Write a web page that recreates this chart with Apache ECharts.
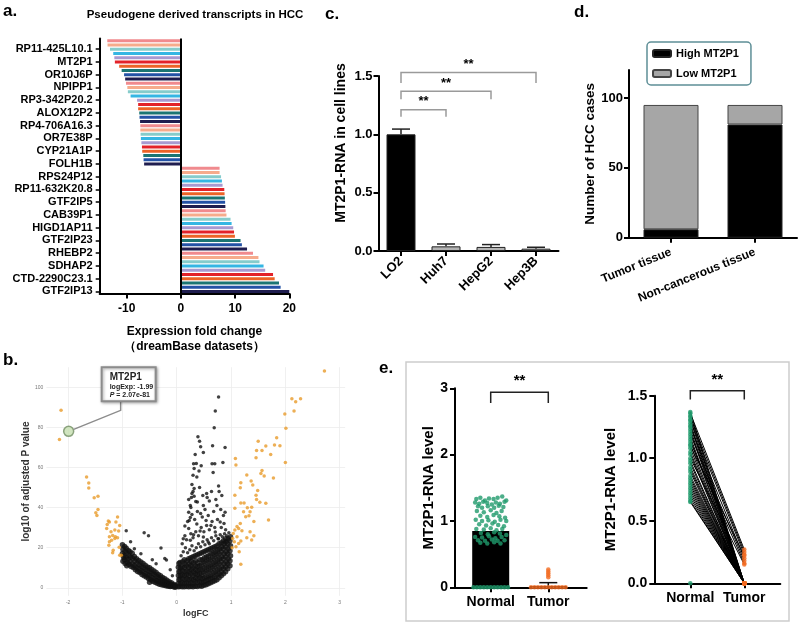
<!DOCTYPE html>
<html>
<head>
<meta charset="utf-8">
<script src="https://cdn.jsdelivr.net/npm/echarts@6/dist/echarts.min.js"></script>
<style>
  html, body { margin: 0; background: #fff; }
  #chart { width: 800px; height: 625px; }
</style>
</head>
<body>
<div id="chart"></div>
<script>
// a. pseudogene derived transcripts (dreamBase), top to bottom
const genes = ['RP11-425L10.1', 'MT2P1', 'OR10J6P', 'NPIPP1', 'RP3-342P20.2', 'ALOX12P2', 'RP4-706A16.3',
  'OR7E38P', 'CYP21A1P', 'FOLH1B', 'RPS24P12', 'RP11-632K20.8', 'GTF2IP5', 'CAB39P1', 'HIGD1AP11',
  'GTF2IP23', 'RHEBP2', 'SDHAP2', 'CTD-2290C23.1', 'GTF2IP13'];
const foldChange = [
  -13.6, -13.55, -13.1, -12.5, -12.3, -12.2, -11.4, -10.95, -10.5, -10.3,
  -10.15, -9.9, -9.8, -9.3, -8.1, -7.9, -7.9, -7.7, -7.65, -7.55,
  -7.5, -7.5, -7.45, -7.4, -7.3, -7.2, -7.15, -6.95, -6.9, -6.8,
  7.13, 7.13, 7.4, 7.56, 7.68, 8.0, 8.05, 8.1, 8.15, 8.2,
  8.25, 8.4, 9.15, 9.35, 9.65, 9.8, 9.96, 11.0, 11.25, 12.2,
  13.3, 14.3, 14.5, 15.25, 15.55, 17.0, 17.3, 18.1, 18.4, 20.0];
const barPalette = ['#f08a8e', '#f6ab8c', '#86cccb', '#35b6e3', '#a89ad0',
  '#e32229', '#ec6327', '#1b7573', '#2452a6', '#1f1d4f'];

// b. volcano plot (logFC, -log10 adj. P)
// crowded area close to the origin
const nsDense = [
  // left band
  [-1.0, 21.5], [-0.99, 19.2], [-1.0, 17.1], [-0.98, 15.3], [-0.99, 13.2], [-0.96, 20.6], [-0.95, 18.1],
  [-0.97, 16.2], [-0.96, 14.0], [-0.95, 12.1], [-0.93, 19.7], [-0.92, 17.4], [-0.93, 15.1], [-0.91, 12.6],
  [-0.92, 11.0], [-0.89, 18.6], [-0.88, 16.1], [-0.9, 14.2], [-0.88, 11.6], [-0.86, 18.0], [-0.85, 15.4],
  [-0.86, 13.1], [-0.84, 10.6], [-0.82, 17.2], [-0.81, 14.6], [-0.82, 12.0], [-0.8, 10.1], [-0.78, 15.6],
  [-0.77, 13.4], [-0.78, 11.1], [-0.76, 9.0], [-0.74, 14.5], [-0.73, 12.2], [-0.74, 10.0], [-0.72, 8.1],
  [-0.7, 13.6], [-0.69, 11.4], [-0.7, 9.6], [-0.68, 7.6], [-0.66, 12.9], [-0.65, 10.6], [-0.66, 8.5],
  [-0.64, 6.6], [-0.62, 12.1], [-0.61, 10.0], [-0.62, 8.1], [-0.6, 6.0], [-0.58, 11.2], [-0.57, 9.1],
  [-0.58, 7.0], [-0.56, 5.4], [-0.54, 10.4], [-0.53, 8.6], [-0.54, 6.5], [-0.52, 4.6], [-0.5, 10.0],
  [-0.49, 8.0], [-0.5, 6.1], [-0.48, 4.0], [-0.5, 2.8], [-0.46, 9.1], [-0.45, 7.1], [-0.46, 5.1],
  [-0.44, 3.2], [-0.42, 8.4], [-0.41, 6.6], [-0.42, 4.5], [-0.4, 2.8], [-0.38, 7.6], [-0.37, 5.6],
  [-0.38, 3.8], [-0.36, 2.2], [-0.34, 6.6], [-0.33, 5.0], [-0.34, 3.2], [-0.32, 1.8], [-0.3, 6.0],
  [-0.29, 4.2], [-0.3, 2.8], [-0.28, 1.5], [-0.26, 5.1], [-0.25, 3.5], [-0.26, 2.2], [-0.24, 1.2],
  [-0.22, 4.5], [-0.21, 3.0], [-0.22, 1.8], [-0.2, 1.0], [-0.18, 3.8], [-0.17, 2.5], [-0.18, 1.5],
  [-0.16, 0.8], [-0.14, 3.0], [-0.13, 2.0], [-0.14, 1.2], [-0.12, 0.6], [-0.1, 2.5], [-0.09, 1.5],
  [-0.1, 0.8], [-0.06, 1.8], [-0.05, 1.0], [-0.06, 0.5], [-0.03, 1.2], [-0.02, 0.6], [-0.03, 0.3],
  // right wedge
  [0.03, 0.5], [0.03, 2.1], [0.04, 4.0], [0.03, 6.1], [0.04, 8.0], [0.03, 10.2], [0.04, 12.1],
  [0.06, 0.6], [0.07, 2.0], [0.06, 4.2], [0.07, 6.0], [0.06, 8.1], [0.07, 10.0], [0.06, 12.6],
  [0.1, 0.5], [0.1, 2.5], [0.11, 4.5], [0.1, 6.5], [0.11, 8.5], [0.1, 10.5], [0.11, 13.0],
  [0.14, 0.5], [0.14, 2.1], [0.15, 4.0], [0.14, 6.1], [0.15, 8.0], [0.14, 10.1], [0.15, 12.0], [0.14, 14.0],
  [0.18, 0.6], [0.18, 2.5], [0.19, 4.5], [0.18, 6.5], [0.19, 8.5], [0.18, 11.0], [0.19, 13.5],
  [0.22, 0.5], [0.22, 2.0], [0.23, 4.0], [0.22, 6.0], [0.23, 8.0], [0.22, 10.0], [0.23, 12.0], [0.22, 14.5],
  [0.26, 0.6], [0.26, 2.5], [0.27, 4.5], [0.26, 7.0], [0.27, 9.0], [0.26, 11.0], [0.27, 13.0], [0.26, 15.0],
  [0.3, 0.5], [0.3, 2.0], [0.31, 4.0], [0.3, 6.0], [0.31, 8.0], [0.3, 10.0], [0.31, 12.5], [0.3, 15.5],
  [0.34, 0.8], [0.34, 3.0], [0.35, 5.0], [0.34, 7.0], [0.35, 9.0], [0.34, 11.0], [0.35, 13.5], [0.34, 16.0],
  [0.38, 0.6], [0.38, 2.5], [0.39, 4.5], [0.38, 6.5], [0.39, 8.5], [0.38, 10.5], [0.39, 12.5], [0.38, 16.5],
  [0.42, 1.0], [0.42, 3.0], [0.43, 5.0], [0.42, 7.0], [0.43, 9.0], [0.42, 11.0], [0.43, 14.0], [0.42, 17.0],
  [0.46, 0.8], [0.46, 2.5], [0.47, 4.5], [0.46, 6.5], [0.47, 9.0], [0.46, 11.5], [0.47, 14.0], [0.46, 17.5],
  [0.5, 1.2], [0.5, 3.0], [0.51, 5.0], [0.5, 7.5], [0.51, 10.0], [0.5, 12.5], [0.51, 15.0], [0.5, 18.0],
  [0.54, 1.5], [0.54, 3.5], [0.55, 5.5], [0.54, 8.0], [0.55, 10.5], [0.54, 13.0], [0.55, 15.5], [0.54, 18.5],
  [0.58, 2.0], [0.58, 4.0], [0.59, 6.0], [0.58, 8.5], [0.59, 11.0], [0.58, 13.5], [0.59, 16.0], [0.58, 19.0],
  [0.62, 2.5], [0.62, 4.5], [0.63, 6.5], [0.62, 9.0], [0.63, 11.5], [0.62, 14.0], [0.63, 17.0], [0.62, 19.5],
  [0.66, 3.0], [0.66, 5.0], [0.67, 7.5], [0.66, 10.0], [0.67, 12.5], [0.66, 15.0], [0.67, 17.5], [0.66, 20.0],
  [0.7, 3.5], [0.7, 5.5], [0.71, 8.0], [0.7, 10.5], [0.71, 13.0], [0.7, 15.5], [0.71, 18.0], [0.7, 20.5],
  [0.74, 4.0], [0.74, 6.5], [0.75, 9.0], [0.74, 11.5], [0.75, 14.0], [0.74, 16.5], [0.75, 19.0], [0.74, 21.0],
  [0.78, 5.0], [0.78, 7.0], [0.79, 9.5], [0.78, 12.0], [0.79, 14.5], [0.78, 17.0], [0.79, 19.5], [0.78, 22.0],
  [0.82, 6.0], [0.82, 8.0], [0.83, 10.5], [0.82, 13.0], [0.83, 15.5], [0.82, 18.0], [0.83, 20.5], [0.82, 22.5],
  [0.86, 7.0], [0.86, 9.5], [0.87, 12.0], [0.86, 14.5], [0.87, 17.0], [0.86, 19.5], [0.87, 22.0], [0.86, 23.5],
  [0.9, 8.0], [0.9, 10.5], [0.91, 13.0], [0.9, 15.5], [0.91, 18.0], [0.9, 20.5], [0.91, 23.0], [0.9, 24.5],
  [0.94, 9.5], [0.94, 12.0], [0.95, 14.5], [0.94, 17.0], [0.95, 19.5], [0.94, 22.0], [0.95, 24.5],
  [0.98, 11.0], [0.98, 13.5], [0.99, 16.0], [0.98, 18.5], [0.99, 21.0], [0.98, 23.5], [0.99, 25.5]];
// spread-out non-significant genes
const nsSparse = [
  [-0.93, 28.4], [-0.6, 27.4], [-0.52, 26.0], [-0.29, 19.8], [-0.22, 14.6], [-0.19, 13.8], [-0.85, 23.0],
  [-0.78, 19.5], [-0.66, 17.0], [-0.45, 14.0], [-0.38, 12.0], [-0.12, 9.0], [-0.08, 6.0],
  [0.08, 16], [0.12, 18], [0.16, 20], [0.2, 17.5], [0.24, 19], [0.28, 21], [0.32, 18.5], [0.36, 20],
  [0.4, 22], [0.44, 20.5], [0.48, 23], [0.52, 21.5], [0.56, 24], [0.6, 22], [0.64, 25], [0.68, 23.5],
  [0.72, 26], [0.76, 24.5], [0.8, 26.5], [0.84, 25.5], [0.88, 27], [0.92, 26], [0.96, 27.5],
  [0.1, 22], [0.15, 26], [0.18, 24], [0.26, 27], [0.3, 25], [0.35, 28], [0.4, 26], [0.45, 30], [0.5, 28],
  [0.55, 31], [0.6, 29], [0.65, 33], [0.7, 30], [0.75, 34], [0.82, 30], [0.9, 29],
  [0.2, 33], [0.25, 35], [0.33, 34], [0.38, 38], [0.44, 37], [0.52, 39], [0.58, 36], [0.68, 38], [0.74, 41],
  [0.86, 36], [0.22, 44], [0.27, 45], [0.3, 48], [0.35, 43], [0.42, 50], [0.48, 46], [0.56, 45], [0.64, 48],
  [0.72, 44], [0.78, 48],
  [0.77, 95.2], [0.71, 88.1], [0.69, 79.8], [0.39, 75.3], [0.42, 73.1], [0.66, 70.8], [0.89, 70.0],
  [0.44, 70.3], [0.49, 67.5], [0.34, 66.5], [0.36, 62], [0.31, 61.8], [0.65, 61.8], [0.7, 61.8],
  [0.85, 62.5], [0.45, 60.8], [0.32, 59.5], [0.41, 58.2], [0.67, 57.5], [0.3, 56.1], [0.37, 55.3],
  [0.28, 51.5], [0.77, 50.7], [0.32, 49.5], [0.55, 47], [0.28, 47], [0.32, 45.7], [0.6, 43.3], [0.83, 46],
  [0.38, 42.8], [0.25, 41], [0.26, 40], [0.49, 41], [0.81, 39], [0.89, 37.7], [0.22, 37.7], [0.28, 36.5],
  [0.47, 35.3], [0.54, 33.6], [0.23, 33.6], [0.8, 32.8], [0.37, 31.8], [0.15, 30.8], [0.63, 31.1],
  [0.87, 32], [0.22, 29.5], [0.43, 28.3], [0.71, 27.8], [0.31, 26.5], [0.49, 25.3], [0.77, 24.5],
  [0.12, 24.5], [0.25, 23.7], [0.58, 22.8], [0.89, 22.8]];
const sigPoints = [
  // down-regulated
  [-2.13, 88.5], [-2.16, 74], [-1.66, 55.2], [-1.62, 52.2], [-1.62, 49.7], [-1.45, 45.7], [-1.52, 44.9],
  [-1.45, 39], [-1.49, 37.4], [-1.47, 36.1], [-1.26, 33.3], [-1.24, 32.8], [-1.09, 35.3], [-1.12, 32.8],
  [-1.05, 31.1], [-1.28, 31.6], [-1.29, 29.6], [-1.14, 28.8], [-1.21, 27.9], [-1.07, 28.3], [-1.18, 26.1],
  [-1.13, 25.4], [-1.09, 24.9], [-1.24, 25.4], [-1.2, 23.7], [-1.14, 24.6], [-1.25, 21.2], [-1.17, 18.7],
  [-1.18, 17.5], [-1.06, 20.2], [-1.05, 16.2], [-1.02, 16.2], [-1.24, 22.9],
  // up-regulated
  [2.72, 108.1], [2.12, 94.3], [2.19, 92.8], [2.28, 94.3], [2.16, 88.1], [1.99, 86.6], [2.01, 79.5],
  [1.84, 74.8], [1.5, 73.1], [1.64, 70.7], [1.8, 71.2], [1.9, 70.8], [1.57, 68.5], [1.73, 66.5],
  [1.47, 68.5], [1.46, 64.8], [2.0, 62.5], [1.08, 64.5], [1.09, 61.2], [1.57, 58.5], [1.55, 57.0],
  [1.78, 54.7], [1.61, 55.7], [1.29, 56.2], [1.37, 53.2], [1.18, 52.4], [1.17, 49.9], [1.49, 48.5],
  [1.46, 46.2], [1.07, 46.2], [1.53, 42.6], [1.4, 51.2], [1.18, 42.3], [1.24, 42.3], [1.47, 44],
  [1.64, 42.1], [1.3, 39.9], [1.38, 40.2], [1.35, 37.9], [1.33, 35.9], [1.23, 37.9], [1.07, 39.6],
  [1.69, 33.8], [1.17, 32.1], [1.11, 30.5], [1.14, 29.6], [1.2, 28.5], [1.07, 28.8], [1.35, 28],
  [1.04, 27.1], [1.11, 25.5], [1.03, 24.6], [1.29, 25], [1.42, 26], [1.38, 23.8], [1.06, 23], [1.14, 22.1],
  [1.18, 23.3], [1.09, 20.5], [1.15, 18], [1.18, 11.7], [1.02, 20], [1.42, 33], [1.27, 35.4]];
const mt2p1Point = [-1.99, 78];

// c. MT2P1 RNA in cell lines
const cellLines = ['LO2', 'Huh7', 'HepG2', 'Hep3B'];
const cellMean = [1.0, 0.04, 0.035, 0.02];
const cellSd = [0.045, 0.02, 0.02, 0.012];
const cellBrackets = [[0, 1, 1.21, 1.15], [0, 2, 1.37, 1.3], [0, 3, 1.53, 1.44]];

// d. HCC cases by MT2P1 level
const tissues = ['Tumor tissue', 'Non-cancerous tissue'];
const highCases = [6, 81];
const lowCases = [89, 14];

// e. paired tissue samples
const groups = ['Normal', 'Tumor'];
const groupMean = [0.85, 0.02];
const tumorSd = 0.05;
const normalDots = [
  [-0.25, 1.33], [-0.18, 1.35], [-0.1, 1.31], [-0.03, 1.34], [0.05, 1.33], [0.12, 1.35], [0.2, 1.37], [0.27, 1.31],
  [-0.27, 1.28], [-0.2, 1.26], [-0.13, 1.29], [-0.06, 1.27], [0.02, 1.25], [0.09, 1.28], [0.16, 1.26], [0.24, 1.29],
  [-0.22, 1.22], [-0.15, 1.2], [-0.05, 1.22], [0.06, 1.2], [0.14, 1.23], [0.22, 1.21],
  [-0.24, 1.15], [-0.12, 1.13], [0.0, 1.16], [0.1, 1.12], [0.19, 1.15],
  [-0.18, 1.08], [-0.06, 1.06], [0.05, 1.09], [0.15, 1.07], [0.25, 1.05],
  [-0.26, 1.02], [-0.15, 1.0], [-0.04, 1.01], [0.07, 0.99], [0.17, 1.02], [0.27, 1.0],
  [-0.2, 0.95], [-0.08, 0.93], [0.03, 0.96], [0.13, 0.94], [0.23, 0.92],
  [-0.25, 0.88], [-0.12, 0.87], [0.0, 0.89], [0.1, 0.86], [0.2, 0.88],
  [-0.17, 0.82], [-0.05, 0.8], [0.06, 0.83], [0.16, 0.81], [0.27, 0.79],
  [-0.27, 0.76], [-0.15, 0.75], [-0.03, 0.77], [0.08, 0.74], [0.19, 0.76],
  [-0.22, 0.71], [-0.1, 0.7], [0.02, 0.72], [0.12, 0.7], [0.24, 0.71],
  [-0.18, 0.67], [-0.06, 0.66], [0.06, 0.68], [0.17, 0.66],
  [-0.3, 0], [-0.24, 0], [-0.18, 0], [-0.12, 0], [-0.06, 0], [0, 0], [0.06, 0], [0.12, 0], [0.18, 0], [0.24, 0], [0.3, 0]];
const tumorDots = [
  [0.7, 0], [0.76, 0], [0.82, 0], [0.88, 0], [0.94, 0], [1.0, 0], [1.06, 0], [1.12, 0], [1.18, 0], [1.24, 0], [1.3, 0],
  [1.0, 0.15], [1.0, 0.18], [1.0, 0.21], [1.0, 0.24], [1.0, 0.27]];
const normalPaired = [1.37, 1.36, 1.34, 1.33, 1.31, 1.3, 1.28, 1.26, 1.25, 1.23,
  1.21, 1.19, 1.17, 1.15, 1.13, 1.11, 1.1, 1.08, 1.05, 1.03,
  1.0, 0.98, 0.96, 0.93, 0.91, 0.89, 0.86, 0.84, 0.82, 0.8,
  0.78, 0.76, 0.74, 0.72, 0.7, 0.68, 0.66, 0.65, 0];
const tumorPaired = [0, 0.27, 0, 0.25, 0, 0.23, 0, 0, 0.2, 0,
  0, 0.18, 0, 0, 0.16, 0, 0.22, 0, 0, 0,
  0.15, 0, 0, 0, 0, 0, 0, 0, 0, 0,
  0, 0, 0, 0, 0, 0, 0, 0, 0];

const FONT = '"Liberation Sans", Arial, sans-serif';
const chart = echarts.init(document.getElementById('chart'));

const labelEvery = (i) => i % 3 === 2;
const geneSlots = foldChange.map((v, i) => (labelEvery(i) ? genes[(i - 2) / 3] : 'slot' + i));

const blackLine = { show: true, onZero: false, lineStyle: { color: '#000', width: 2 } };
const blackTick = { show: true, length: 5, lineStyle: { color: '#000', width: 2 } };
const boldLabel = (size, extra) => Object.assign({ color: '#000', fontWeight: 'bold', fontSize: size, fontFamily: FONT }, extra);

function bracketItem(color, fontSize, starGap) {
  return (params, api) => {
    const a = api.coord([api.value(0), api.value(2)]);
    const b = api.coord([api.value(1), api.value(2)]);
    const aLow = api.coord([api.value(0), api.value(3)]);
    const bLow = api.coord([api.value(1), api.value(3)]);
    return {
      type: 'group',
      children: [
        { type: 'polyline', shape: { points: [aLow, a, b, bLow] }, style: { stroke: color, lineWidth: 1.5, fill: null } },
        { type: 'text', style: { text: '**', x: (a[0] + b[0]) / 2, y: a[1] - starGap, textAlign: 'center',
          textVerticalAlign: 'middle', font: 'bold ' + fontSize + 'px ' + FONT, fill: '#000' } }
      ]
    };
  };
}

function errorItem(color, half) {
  return (params, api) => {
    const base = api.coord([api.value(0), api.value(1)]);
    const top = api.coord([api.value(0), api.value(1) + api.value(2)]);
    return {
      type: 'group',
      children: [
        { type: 'line', shape: { x1: base[0], y1: base[1], x2: top[0], y2: top[1] }, style: { stroke: color, lineWidth: 1.5 } },
        { type: 'line', shape: { x1: top[0] - half, y1: top[1], x2: top[0] + half, y2: top[1] }, style: { stroke: color, lineWidth: 1.5 } }
      ]
    };
  };
}

const baseGraphics = [
  { type: 'text', id: 'la', left: 3, top: 3, style: { text: 'a.', font: 'bold 17px ' + FONT, fill: '#000' } },
  { type: 'text', id: 'lb', left: 3, top: 352, style: { text: 'b.', font: 'bold 17px ' + FONT, fill: '#000' } },
  { type: 'text', id: 'lc', left: 325, top: 6, style: { text: 'c.', font: 'bold 17px ' + FONT, fill: '#000' } },
  { type: 'text', id: 'ld', left: 574, top: 4, style: { text: 'd.', font: 'bold 17px ' + FONT, fill: '#000' } },
  { type: 'text', id: 'le', left: 379, top: 360, style: { text: 'e.', font: 'bold 17px ' + FONT, fill: '#000' } },
  { type: 'text', id: 'ta', x: 195, y: 15, style: { text: 'Pseudogene derived transcripts in HCC', font: 'bold 11.5px ' + FONT,
    fill: '#000', textAlign: 'center', textVerticalAlign: 'middle' } },
  { type: 'text', id: 'cy', x: 341, y: 143, rotation: Math.PI / 2, style: { text: 'MT2P1-RNA in cell lines',
    font: 'bold 14px ' + FONT, fill: '#000', textAlign: 'center', textVerticalAlign: 'middle' } },
  { type: 'rect', id: 'ebox', shape: { x: 406, y: 362, width: 383, height: 259 },
    style: { fill: null, stroke: '#cdcdcd', lineWidth: 1.5 } }
];

const option = {
  animation: false,
  backgroundColor: '#fff',
  textStyle: { fontFamily: FONT },
  graphic: { elements: baseGraphics },
  legend: {
    data: ['High MT2P1', 'Low MT2P1'],
    orient: 'vertical', left: 647, top: 42, itemWidth: 18, itemHeight: 7, itemGap: 9,
    padding: [6, 12, 6, 5], borderColor: '#5e8f97', borderWidth: 1.5, borderRadius: 4,
    selectedMode: false, textStyle: boldLabel(11)
  },
  grid: [
    { left: 99.7, top: 38.5, width: 189.6, height: 255 },
    { left: 46.4, top: 367.2, width: 298.7, height: 228.6 },
    { left: 378.5, top: 76, width: 180, height: 175 },
    { left: 629, top: 70, width: 168, height: 167.7 },
    { left: 455, top: 388.3, width: 131.7, height: 199 },
    { left: 654.3, top: 395.7, width: 126, height: 187.6 }
  ],
  xAxis: [
    { type: 'value', gridIndex: 0, min: -15, max: 20, axisLine: blackLine, axisTick: blackTick,
      axisLabel: boldLabel(12, { showMinLabel: false, margin: 9 }), splitLine: { show: false },
      name: 'Expression fold change\n（dreamBase datasets）', nameLocation: 'middle', nameGap: 31,
      nameTextStyle: boldLabel(12, { lineHeight: 15 }) },
    { type: 'value', gridIndex: 1, min: -2.4, max: 3.1, axisLine: { show: false }, axisTick: { show: false },
      axisLabel: { fontSize: 5, color: '#777', margin: 4, showMinLabel: false, showMaxLabel: false },
      splitLine: { show: true, showMinLine: false, showMaxLine: false, lineStyle: { color: '#ececec', width: 0.8 } },
      name: 'logFC', nameLocation: 'middle', nameGap: 13, nameTextStyle: boldLabel(9, { color: '#333' }) },
    { type: 'category', gridIndex: 2, data: cellLines, axisLine: blackLine,
      axisTick: Object.assign({ alignWithLabel: true }, blackTick),
      axisLabel: boldLabel(13, { rotate: 45, margin: 8 }) },
    { type: 'category', gridIndex: 3, data: tissues, axisLine: blackLine,
      axisTick: Object.assign({ alignWithLabel: true }, blackTick),
      axisLabel: boldLabel(12, { rotate: 22, margin: 14 }) },
    { type: 'value', gridIndex: 4, min: -0.62, max: 1.667, axisLine: blackLine,
      axisTick: Object.assign({ customValues: [0, 1] }, blackTick),
      axisLabel: boldLabel(14, { customValues: [0, 1], margin: 8, formatter: (v) => groups[v] || '' }),
      splitLine: { show: false } },
    { type: 'value', gridIndex: 5, min: -0.667, max: 1.667, axisLine: blackLine,
      axisTick: Object.assign({ customValues: [0, 1] }, blackTick),
      axisLabel: boldLabel(14, { customValues: [0, 1], margin: 8, formatter: (v) => groups[v] || '' }),
      splitLine: { show: false } }
  ],
  yAxis: [
    { type: 'category', gridIndex: 0, data: geneSlots, inverse: true, axisLine: blackLine,
      axisTick: { show: true, alignWithLabel: true, interval: labelEvery, length: 4, lineStyle: { color: '#000', width: 1.5 } },
      axisLabel: boldLabel(11, { interval: labelEvery, margin: 7 }) },
    { type: 'value', gridIndex: 1, min: -4, max: 110, axisLine: { show: false }, axisTick: { show: false },
      axisLabel: { fontSize: 5, color: '#777', margin: 3, showMinLabel: false, showMaxLabel: false },
      splitLine: { show: true, showMinLine: false, showMaxLine: false, lineStyle: { color: '#ececec', width: 0.8 } },
      name: 'log10 of adjusted P value', nameLocation: 'middle', nameGap: 6, nameTextStyle: boldLabel(10, { color: '#333' }) },
    { type: 'value', gridIndex: 2, min: 0, max: 1.5, interval: 0.5, axisLine: blackLine, axisTick: blackTick,
      axisLabel: boldLabel(13, { margin: 6, formatter: (v) => v.toFixed(1) }), splitLine: { show: false } },
    { type: 'value', gridIndex: 3, min: 0, max: 120, interval: 50, axisLine: blackLine, axisTick: blackTick,
      axisLabel: boldLabel(13, { margin: 6, showMaxLabel: false }), splitLine: { show: false },
      name: 'Number of HCC cases', nameLocation: 'middle', nameGap: 32, nameTextStyle: boldLabel(13.5) },
    { type: 'value', gridIndex: 4, min: 0, max: 3, interval: 1, axisLine: blackLine, axisTick: blackTick,
      axisLabel: boldLabel(14, { margin: 7 }), splitLine: { show: false },
      name: 'MT2P1-RNA level', nameLocation: 'middle', nameGap: 17, nameTextStyle: boldLabel(15) },
    { type: 'value', gridIndex: 5, min: 0, max: 1.5, interval: 0.5, axisLine: blackLine, axisTick: blackTick,
      axisLabel: boldLabel(14, { margin: 7, formatter: (v) => v.toFixed(1) }), splitLine: { show: false },
      name: 'MT2P1-RNA level', nameLocation: 'middle', nameGap: 36, nameTextStyle: boldLabel(15) }
  ],
  series: [
    // a
    { type: 'bar', xAxisIndex: 0, yAxisIndex: 0, barWidth: 3,
      data: foldChange.map((v, i) => ({ value: v, itemStyle: { color: barPalette[i % barPalette.length] } })),
      markLine: { symbol: 'none', silent: true, label: { show: false },
        lineStyle: { color: '#000', width: 2, type: 'solid' }, data: [{ xAxis: 0 }] } },
    // b
    { type: 'scatter', xAxisIndex: 1, yAxisIndex: 1, symbolSize: 5.5, clip: false,
      itemStyle: { color: '#111' }, data: nsDense },
    { type: 'scatter', xAxisIndex: 1, yAxisIndex: 1, symbolSize: 3.5, clip: false,
      itemStyle: { color: '#111' }, data: nsSparse },
    { type: 'scatter', xAxisIndex: 1, yAxisIndex: 1, symbolSize: 3.5, clip: false,
      itemStyle: { color: '#e89b2a' }, data: sigPoints },
    { type: 'scatter', xAxisIndex: 1, yAxisIndex: 1, symbolSize: 10, z: 5,
      itemStyle: { color: '#c5dfb0', borderColor: '#738f64', borderWidth: 1.5 }, data: [mt2p1Point] },
    // c
    { type: 'bar', xAxisIndex: 2, yAxisIndex: 2, barWidth: 29,
      data: cellMean.map((v, i) => ({ value: v, itemStyle: { color: i === 0 ? '#000' : '#b4b4b4', borderColor: '#222', borderWidth: 1 } })) },
    { type: 'custom', xAxisIndex: 2, yAxisIndex: 2, encode: { x: 0, y: 1 },
      renderItem: errorItem('#222', 9), data: cellMean.map((m, i) => [i, m, cellSd[i]]) },
    { type: 'custom', xAxisIndex: 2, yAxisIndex: 2, encode: { x: 0, y: 2 },
      renderItem: bracketItem('#9a9a9a', 13, 8), data: cellBrackets },
    // d
    { type: 'bar', name: 'High MT2P1', xAxisIndex: 3, yAxisIndex: 3, stack: 'cases', barWidth: 55,
      itemStyle: { color: '#000', borderColor: '#222', borderWidth: 1 }, data: highCases },
    { type: 'bar', name: 'Low MT2P1', xAxisIndex: 3, yAxisIndex: 3, stack: 'cases', barWidth: 55,
      itemStyle: { color: '#a6a6a6', borderColor: '#444', borderWidth: 1 }, data: lowCases },
    // e, left
    { type: 'bar', xAxisIndex: 4, yAxisIndex: 4, barWidth: 37, itemStyle: { color: '#000' },
      data: groupMean.map((v, i) => [i, v]) },
    { type: 'scatter', xAxisIndex: 4, yAxisIndex: 4, symbolSize: 4.5, clip: false,
      itemStyle: { color: '#1f9a6c' }, data: normalDots },
    { type: 'scatter', xAxisIndex: 4, yAxisIndex: 4, symbolSize: 4.5, clip: false,
      itemStyle: { color: '#f26c22' }, data: tumorDots },
    { type: 'custom', xAxisIndex: 4, yAxisIndex: 4, encode: { x: 0, y: 1 },
      renderItem: errorItem('#111', 9), data: [[1, groupMean[1], tumorSd]] },
    { type: 'custom', xAxisIndex: 4, yAxisIndex: 4, encode: { x: 0, y: 2 },
      renderItem: bracketItem('#222', 15, 11), data: [[0, 1, 2.94, 2.78]] },
    // e, right
    { type: 'lines', coordinateSystem: 'cartesian2d', xAxisIndex: 5, yAxisIndex: 5,
      lineStyle: { color: '#000', width: 1, opacity: 1 },
      data: normalPaired.map((n, i) => ({ coords: [[0, n], [1, tumorPaired[i]]] })) },
    { type: 'scatter', xAxisIndex: 5, yAxisIndex: 5, symbolSize: 4.5, clip: false,
      itemStyle: { color: '#1f9a6c' }, data: normalPaired.map((v) => [0, v]) },
    { type: 'scatter', xAxisIndex: 5, yAxisIndex: 5, symbolSize: 4.5, clip: false,
      itemStyle: { color: '#f26c22' }, data: tumorPaired.map((v) => [1, v]) },
    { type: 'custom', xAxisIndex: 5, yAxisIndex: 5, encode: { x: 0, y: 2 },
      renderItem: bracketItem('#222', 15, 11), data: [[0, 1, 1.54, 1.47]] }
  ]
};

chart.setOption(option);

// callout for MT2P1 in the volcano plot, anchored on the point itself
const p = chart.convertToPixel({ xAxisIndex: 1, yAxisIndex: 1 }, mt2p1Point);
chart.setOption({
  graphic: {
    elements: baseGraphics.concat([
      { type: 'polyline', id: 'cl', z: 50,
        shape: { points: [[p[0] + 5, p[1] - 2], [p[0] + 52, p[1] - 21], [p[0] + 52, p[1] - 30]] },
        style: { stroke: '#8c8c8c', lineWidth: 1.5, fill: null } },
      { type: 'rect', id: 'cb', z: 50, shape: { x: p[0] + 33, y: p[1] - 64, width: 54, height: 34 },
        style: { fill: '#fff', stroke: '#8c8c8c', lineWidth: 2, shadowBlur: 3, shadowOffsetX: 1,
          shadowOffsetY: 1, shadowColor: 'rgba(0,0,0,0.35)' } },
      { type: 'text', id: 'ct', z: 51, x: p[0] + 41, y: p[1] - 60,
        style: { text: '{t|MT2P1}\n{s|logExp: -1.99}\n{i|P}{s| = 2.07e-81}', fill: '#222',
          rich: {
            t: { font: 'bold 10px ' + FONT, lineHeight: 12 },
            s: { font: 'bold 7px ' + FONT, lineHeight: 8 },
            i: { font: 'italic bold 7px ' + FONT, lineHeight: 8 }
          } } }
    ])
  }
});
</script>
</body>
</html>
